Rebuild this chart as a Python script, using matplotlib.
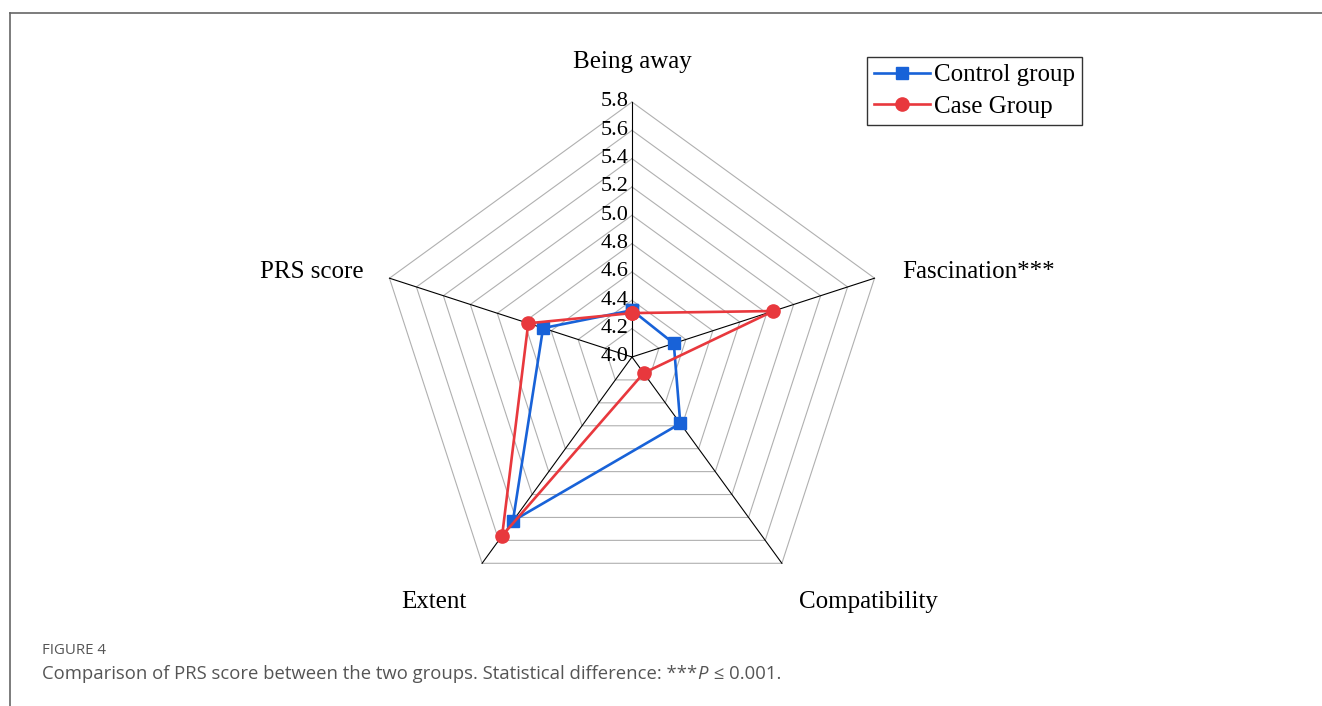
import numpy as np
import matplotlib.pyplot as plt
from matplotlib.lines import Line2D

# data
dimensions = ["Being away", "Fascination***", "Compatibility", "Extent", "PRS score"]
control = [4.33, 4.31, 4.58, 5.43, 4.66]
case = [4.31, 5.05, 4.14, 5.56, 4.77]
ticks = [4.0, 4.2, 4.4, 4.6, 4.8, 5.0, 5.2, 5.4, 5.6, 5.8]
rmin, rmax = 4.0, 5.8

W, H, dpi = 1322, 706, 100
fig = plt.figure(figsize=(W / dpi, H / dpi), dpi=dpi)

# axes covering whole figure, 1 data unit = radius/(rmax-rmin)
cx, cy, rad = 632, 357, 255
ppu = rad / (rmax - rmin)
ax = fig.add_axes([0, 0, 1, 1])
ax.set_xlim(-cx / ppu, (W - cx) / ppu)
ax.set_ylim(-(H - cy) / ppu, cy / ppu)
ax.axis("off")

n = len(dimensions)
ang = np.deg2rad(90 - 72 * np.arange(n))


def xy(vals):
    r = np.asarray(vals) - rmin
    x = r * np.cos(ang)
    y = r * np.sin(ang)
    return np.append(x, x[0]), np.append(y, y[0])


# rings
for t in ticks[1:]:
    gx, gy = xy([t] * n)
    ax.plot(gx, gy, color="#b0b0b0", lw=0.8, zorder=1)

# spokes
R = rmax - rmin
for a in ang:
    ax.plot([0, R * np.cos(a)], [0, R * np.sin(a)], color="black", lw=0.8, zorder=2)

serif = "Liberation Serif"

# tick labels on the vertical axis
for t in ticks:
    ax.text(-0.025, t - rmin, f"{t:.1f}", ha="right", va="center",
            fontsize=16, family=serif, zorder=3)

# series
bx, by = xy(control)
ax.plot(bx, by, color="#1862d8", lw=1.9, marker="s", ms=8, zorder=5, label="Control group")
rx, ry = xy(case)
ax.plot(rx, ry, color="#e8383d", lw=1.9, marker="o", ms=9.5, zorder=6, label="Case Group")

# axis labels
lab_pos = [(0, 295, "center"), (270, 85, "left"), (236, -245, "center"),
           (-198, -245, "center"), (-268, 85, "right")]
for name, (px, py, ha) in zip(dimensions, lab_pos):
    ax.text(px / ppu, py / ppu, name, ha=ha, va="center", fontsize=18, family=serif)

leg = ax.legend(loc="upper left", bbox_to_anchor=(867 / W, 1 - 57 / H),
                bbox_transform=fig.transFigure, frameon=True, fancybox=False,
                prop={"family": serif, "size": 18}, handlelength=2.25,
                handletextpad=0.15, borderpad=0.28, labelspacing=0.35,
                borderaxespad=0)
leg.get_frame().set_edgecolor("black")
leg.get_frame().set_linewidth(1.0)

# page frame
fig.add_artist(Line2D([10 / W, 1], [1 - 12.5 / H, 1 - 12.5 / H],
                      transform=fig.transFigure, color="#666666", lw=1.2))
fig.add_artist(Line2D([10 / W, 10 / W], [0, 1 - 12.5 / H],
                      transform=fig.transFigure, color="#666666", lw=1.2))

# caption
cap_font = ["Open Sans", "DejaVu Sans"]
fig.text(42 / W, 1 - 650 / H, "FIGURE 4", fontsize=10.8, color="#555555",
         family=cap_font, va="center", fontweight="medium")
renderer = fig.canvas.get_renderer()
x0 = 42
parts = [("Comparison of PRS score between the two groups. Statistical difference: ***", "normal"),
         ("P", "italic"), (" \u2264 0.001.", "normal")]
for txt, style in parts:
    t = fig.text(x0 / W, 1 - 674 / H, txt, fontsize=13.3, color="#555555",
                 family=cap_font, style=style, va="center")
    bb = t.get_window_extent(renderer)
    x0 = bb.x1 + (1 if style == "italic" else 0)

fig.savefig("out.png", dpi=dpi)
